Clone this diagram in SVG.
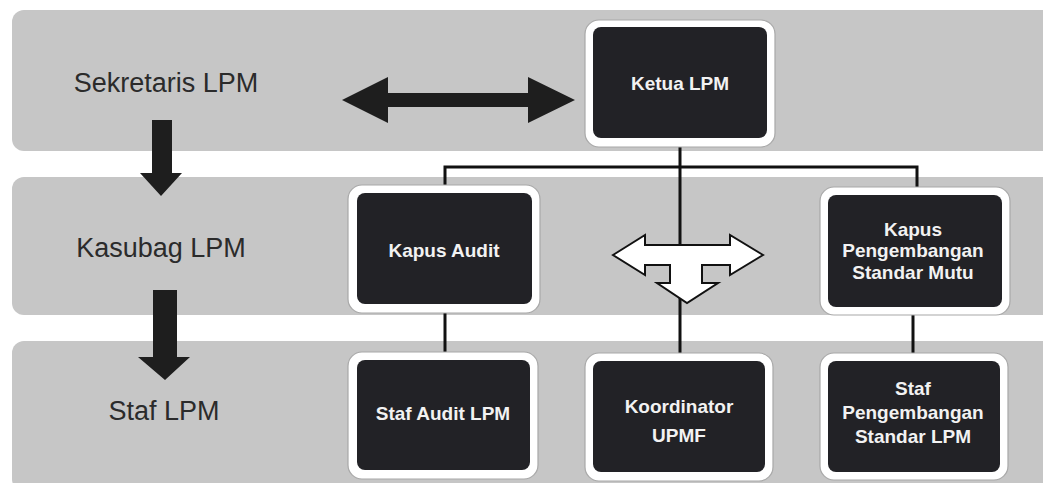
<svg xmlns="http://www.w3.org/2000/svg" width="1043" height="483" viewBox="0 0 1043 483">
<defs>
<style>
.band{fill:#c6c6c6;}
.lbl{font-family:"Liberation Sans",Arial,sans-serif;font-size:27px;fill:#2b2b2b;text-anchor:middle;}
.outer{fill:#ffffff;stroke:#a8a8a8;stroke-width:1.2;}
.inner{fill:#222226;}
.bt{font-family:"Liberation Sans",Arial,sans-serif;font-size:19px;font-weight:bold;fill:#f2f2f2;text-anchor:middle;}
.conn{stroke:#111;stroke-width:3;fill:none;}
.blk{fill:#1e1e1e;}
</style>
</defs>
<rect width="1043" height="483" fill="#ffffff"/>
<g id="bands">
<rect class="band" x="12" y="10" width="1045" height="141" rx="12"/>
<rect class="band" x="12" y="177" width="1045" height="138" rx="12"/>
<rect class="band" x="12" y="341" width="1045" height="150" rx="12"/>
</g>
<g id="level-labels">
<g id="sekretaris"><text class="lbl" x="166" y="92">Sekretaris LPM</text></g>
<g id="kasubag"><text class="lbl" x="161" y="257">Kasubag LPM</text></g>
<g id="staf"><text class="lbl" x="164" y="420">Staf LPM</text></g>
</g>
<g id="connectors">
<path class="conn" d="M445 185 V167 H917 V187"/>
<path class="conn" d="M680 147 V353"/>
<path class="conn" d="M445 313 V352"/>
<path class="conn" d="M913 315 V353"/>
<polygon class="blk" points="342,100 388,77 388,93 528,93 528,77 575,100 528,123 528,107 388,107 388,123"/>
<polygon class="blk" points="152,120 172,120 172,173 182,173 161,196 140,173 152,173"/>
<polygon class="blk" points="153,290 177,290 177,357 190,357 165,380 138,357 153,357"/>
<polygon fill="#ffffff" stroke="#111" stroke-width="2" stroke-linejoin="miter" points="613,255 645,235 645,245 730,245 730,235 763,255 730,275 730,265 702,265 702,283 718,283 687,303 657,283 670,283 670,265 645,265 645,275"/>
</g>
<g id="ketua">
<rect class="outer" x="585" y="20" width="190" height="127" rx="14"/>
<rect class="inner" x="593" y="27" width="174" height="111" rx="8"/>
<text class="bt" x="680" y="90">Ketua LPM</text>
</g>
<g id="kapus-audit">
<rect class="outer" x="348" y="185" width="192" height="128" rx="14"/>
<rect class="inner" x="357" y="193" width="175" height="111" rx="8"/>
<text class="bt" x="444" y="257">Kapus Audit</text>
</g>
<g id="kapus-pengembangan">
<rect class="outer" x="820" y="187" width="190" height="128" rx="14"/>
<rect class="inner" x="828" y="195" width="174" height="112" rx="8"/>
<text class="bt" x="913" y="236">Kapus</text>
<text class="bt" x="913" y="257">Pengembangan</text>
<text class="bt" x="913" y="279">Standar Mutu</text>
</g>
<g id="staf-audit">
<rect class="outer" x="348" y="352" width="190" height="127" rx="14"/>
<rect class="inner" x="357" y="360" width="173" height="110" rx="8"/>
<text class="bt" x="443" y="420">Staf Audit LPM</text>
</g>
<g id="koordinator">
<rect class="outer" x="585" y="353" width="188" height="128" rx="14"/>
<rect class="inner" x="593" y="361" width="172" height="111" rx="8"/>
<text class="bt" x="679" y="413">Koordinator</text>
<text class="bt" x="679" y="442">UPMF</text>
</g>
<g id="staf-pengembangan">
<rect class="outer" x="820" y="353" width="188" height="127" rx="14"/>
<rect class="inner" x="828" y="361" width="172" height="111" rx="8"/>
<text class="bt" x="913" y="395">Staf</text>
<text class="bt" x="913" y="419">Pengembangan</text>
<text class="bt" x="913" y="443">Standar LPM</text>
</g>
</svg>
